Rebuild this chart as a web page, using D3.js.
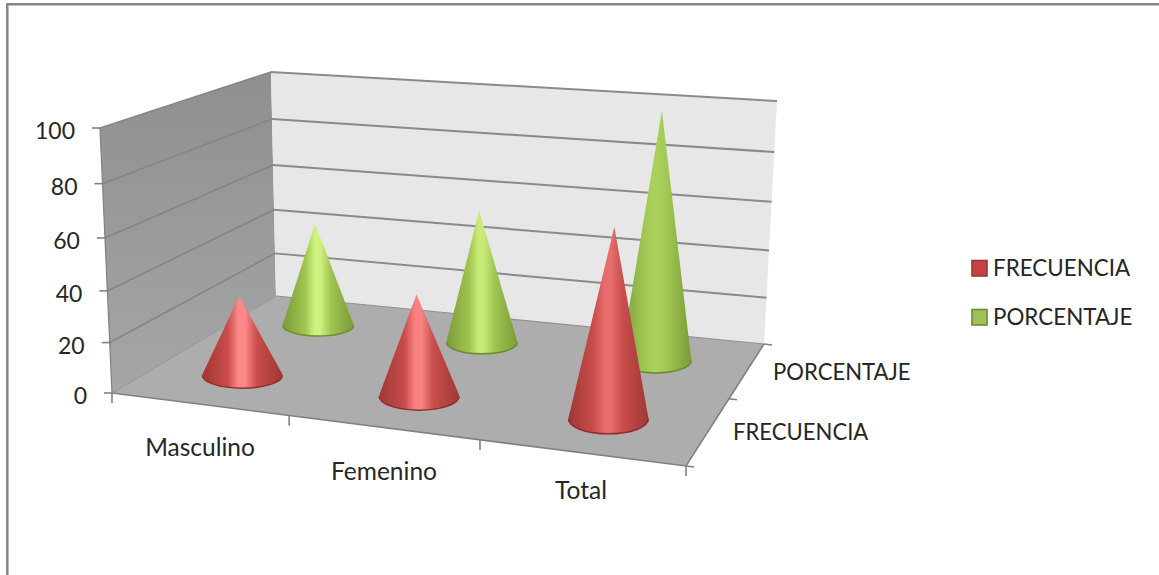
<!DOCTYPE html>
<html>
<head>
<meta charset="utf-8">
<script src="https://cdn.jsdelivr.net/npm/d3@7"></script>
<style>
html, body { margin: 0; padding: 0; background: #fff; }
svg { display: block; }
text { font-family: Lato, "Open Sans", sans-serif; fill: #262626; }
</style>
</head>
<body>
<svg id="chart" width="1159" height="575"></svg>
<script>
const categories = ["Masculino", "Femenino", "Total"];
const seriesNames = ["FRECUENCIA", "PORCENTAJE"];
const frecuencia = [32, 40, 72];
const porcentaje = [44.4, 55.6, 100];
const valueTicks = [0, 20, 40, 60, 80, 100];

const seriesColors = {
  FRECUENCIA: { edge: "#a03836", mid: "#c94d4b", light: "#ff8a8a", rim: "#8f2d2b", key: "#c8413f", keyLine: "#8c3e3c", radius: 40 },
  PORCENTAJE: { edge: "#7b9b38", mid: "#9fc552", light: "#d8fb86", rim: "#6c8c2e", key: "#9fc254", keyLine: "#71893f", radius: 35.5 }
};

const svg = d3.select("#chart");
const defs = svg.append("defs");

// Corners of the floor and of the plane at the top of the value axis.
const floorCorners = { fl: [112, 393], fr: [686, 466], bl: [276, 296], br: [764, 344] };
const topCorners = { fl: [100, 128], fr: [710, 180], bl: [271, 72], br: [777, 101] };

// Perspective map from the unit square onto a quadrilateral.
function planeMap(c) {
  const [x0, y0] = c.fl, [x1, y1] = c.fr, [x2, y2] = c.br, [x3, y3] = c.bl;
  const dx1 = x1 - x2, dx2 = x3 - x2, dx3 = x0 - x1 + x2 - x3;
  const dy1 = y1 - y2, dy2 = y3 - y2, dy3 = y0 - y1 + y2 - y3;
  const den = dx1 * dy2 - dx2 * dy1;
  const g = (dx3 * dy2 - dx2 * dy3) / den;
  const h = (dx1 * dy3 - dx3 * dy1) / den;
  const a = x1 - x0 + g * x1, b = x3 - x0 + h * x3;
  const d = y1 - y0 + g * y1, e = y3 - y0 + h * y3;
  return (u, v) => {
    const w = g * u + h * v + 1;
    return [(a * u + b * v + x0) / w, (d * u + e * v + y0) / w];
  };
}
const floorMap = planeMap(floorCorners);
const topMap = planeMap(topCorners);

const xScale = d3.scaleBand().domain(categories).range([0, 1]);
const zScale = d3.scaleBand().domain(seriesNames).range([0, 1]);
const yScale = d3.scaleLinear().domain([0, 100]).range([0, 1]);

// u across the categories, d into the depth, value up the axis.
// The value axis foreshortens slightly towards its lower end.
const foreshorten = 0.06;
function project(u, d, value) {
  const uu = u + 0.006 * Math.sin(Math.PI * u);
  const a = floorMap(uu, d), b = topMap(uu, d), s = yScale(value);
  const t = s * (1 - foreshorten) / (1 - foreshorten * s);
  return [a[0] + (b[0] - a[0]) * t, a[1] + (b[1] - a[1]) * t];
}
const poly = pts => "M" + pts.map(p => p.join(",")).join("L") + "Z";

// Page frame
svg.append("path")
  .attr("d", "M7.3,575V4.2H1159")
  .attr("fill", "none").attr("stroke", "#868686").attr("stroke-width", 2.5);

// Walls and floor
const wallGrad = defs.append("linearGradient").attr("id", "sideWall")
  .attr("x1", 0).attr("y1", 0).attr("x2", 0).attr("y2", 1);
wallGrad.append("stop").attr("offset", 0).attr("stop-color", "#8f8f8f");
wallGrad.append("stop").attr("offset", 1).attr("stop-color", "#a6a6a6");

svg.append("path").attr("fill", "url(#sideWall)")
  .attr("d", poly([project(0, 0, 0), project(0, 0, 100), project(0, 1, 100), project(0, 1, 0)]));
svg.append("path").attr("fill", "#e7e7e7")
  .attr("d", poly([project(0, 1, 0), project(0, 1, 100), project(1, 1, 100), project(1, 1, 0)]));
svg.append("path").attr("fill", "#adadad")
  .attr("d", poly([project(0, 0, 0), project(1, 0, 0), project(1, 1, 0), project(0, 1, 0)]));

// Gridlines on both walls
const gridLine = d3.line();
valueTicks.filter(v => v > 0).forEach(v => {
  svg.append("path").attr("fill", "none").attr("stroke", "#858585").attr("stroke-width", 1.6)
    .attr("d", gridLine([project(0, 0, v), project(0, 1, v)]));
  svg.append("path").attr("fill", "none").attr("stroke", "#8a8a8a").attr("stroke-width", 2)
    .attr("d", gridLine([project(0, 1, v), project(1, 1, v)]));
});
svg.append("path").attr("fill", "none").attr("stroke", "#909090").attr("stroke-width", 1.2)
  .attr("d", gridLine([project(0, 1, 0), project(1, 1, 0)]));
svg.append("path").attr("fill", "none").attr("stroke", "#808080").attr("stroke-width", 1.6)
  .attr("d", gridLine([project(0, 0, 0), project(1, 0, 0), project(1, 1, 0)]));
svg.append("path").attr("fill", "none").attr("stroke", "#999").attr("stroke-width", 1.2)
  .attr("d", gridLine([project(0, 0, 0), project(0, 1, 0)]));
svg.append("path").attr("fill", "none").attr("stroke", "#808080").attr("stroke-width", 1.2)
  .attr("d", gridLine([project(0, 0, 0), project(0, 0, 100)]));

// Value axis ticks and labels
valueTicks.forEach(v => {
  const p = project(0, 0, v);
  svg.append("line").attr("x1", p[0] - 8).attr("x2", p[0]).attr("y1", p[1]).attr("y2", p[1])
    .attr("stroke", "#808080").attr("stroke-width", 1.6);
  svg.append("text").attr("x", p[0] - 25).attr("y", p[1] + 3).attr("dy", "0.36em")
    .attr("text-anchor", "end").attr("font-size", 23).text(v);
});

// Category axis ticks and labels
const catTickEnds = d3.range(categories.length + 1).map(i => i / categories.length);
catTickEnds.forEach(u => {
  const p = project(u, 0, 0);
  svg.append("line").attr("x1", p[0]).attr("x2", p[0]).attr("y1", p[1]).attr("y2", p[1] + 10)
    .attr("stroke", "#808080").attr("stroke-width", 1.6);
});
const catLabelPos = [[200, 447], [384, 471], [581, 490]];
categories.forEach((c, i) => {
  svg.append("text").attr("x", catLabelPos[i][0]).attr("y", catLabelPos[i][1]).attr("dy", "0.36em")
    .attr("text-anchor", "middle").attr("font-size", 24.5).text(c);
});

// Depth axis ticks and labels
d3.range(seriesNames.length + 1).map(i => i / seriesNames.length).forEach(d => {
  const p = project(1, d, 0);
  svg.append("line").attr("x1", p[0]).attr("x2", p[0] + 8).attr("y1", p[1]).attr("y2", p[1] + 1)
    .attr("stroke", "#808080").attr("stroke-width", 1.6);
});
const depthLabelPos = [[733, 432], [773, 372]];
seriesNames.forEach((s, i) => {
  svg.append("text").attr("x", depthLabelPos[i][0]).attr("y", depthLabelPos[i][1]).attr("dy", "0.36em")
    .attr("font-size", 22.1).text(s);
});

// Cones, back row first so the front row overlaps it
const radiusD = 0.115;
const highlight = d3.scaleLinear().domain([30, 100]).range([1, 0.2]).clamp(true);

function drawCones(series, values, seriesIdx) {
  const col = seriesColors[series];
  const dMid = zScale(series) + zScale.bandwidth() / 2;
  categories.forEach((c, i) => {
    const uMid = xScale(c) + xScale.bandwidth() / 2;
    const v = values[i];
    const base = project(uMid, dMid, 0);
    const apex = project(uMid, dMid, v);
    const rx = col.radius;
    const near = project(uMid, dMid - radiusD, 0);
    const ry = Math.max(near[1] - base[1], 9);
    const cx = base[0], cy = base[1];

    // Outline tangent to the base ellipse as seen from the apex
    const h = cy - apex[1];
    const ty = -ry * ry / h;
    const tx = rx * Math.sqrt(Math.max(0, 1 - ty * ty / (ry * ry)));
    const gid = `cone-${seriesIdx}-${i}`;
    const g = defs.append("linearGradient").attr("id", gid).attr("gradientUnits", "userSpaceOnUse")
      .attr("x1", cx - rx).attr("x2", cx + rx).attr("y1", 0).attr("y2", 0);
    const lightColor = d3.interpolateRgb(col.mid, col.light)(highlight(v));
    [[0, col.edge], [0.32, col.mid], [0.45, lightColor], [0.53, lightColor], [0.68, col.mid], [1, col.edge]]
      .forEach(s => g.append("stop").attr("offset", s[0]).attr("stop-color", s[1]));

    const outline = `M${apex[0]},${apex[1]}L${cx - tx},${cy + ty}`
      + `A${rx},${ry} 0 1 0 ${cx + tx},${cy + ty}Z`;
    svg.append("path").attr("d", outline).attr("fill", `url(#${gid})`);
    // Dark rim around the near part of the base
    svg.append("path")
      .attr("d", `M${cx - rx},${cy}A${rx},${ry} 0 0 0 ${cx + rx},${cy}`)
      .attr("fill", "none").attr("stroke", col.rim).attr("stroke-width", 1.5);
  });
}
drawCones("PORCENTAJE", porcentaje, 1);
drawCones("FRECUENCIA", frecuencia, 0);

// Legend
const legendY = [268.5, 317.5];
seriesNames.forEach((s, i) => {
  const col = seriesColors[s];
  svg.append("rect").attr("x", 972).attr("y", legendY[i] - 8).attr("width", 15).attr("height", 15.5)
    .attr("fill", col.key).attr("stroke", col.keyLine).attr("stroke-width", 1.6);
  svg.append("text").attr("x", 993).attr("y", legendY[i] - 0.5).attr("dy", "0.36em")
    .attr("font-size", 22.4).text(s);
});
</script>
</body>
</html>
